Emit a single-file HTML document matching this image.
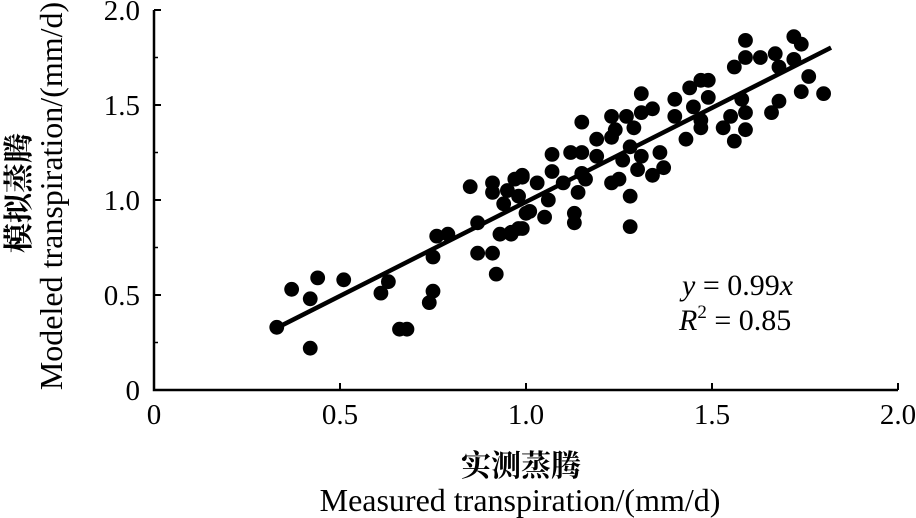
<!DOCTYPE html>
<html><head><meta charset="utf-8"><style>
body{margin:0;background:#fff;}
svg{display:block;font-family:"Liberation Serif","Noto Serif CJK SC",serif;}
</style></head><body>
<svg id="chart" width="916" height="518" viewBox="0 0 916 518" xmlns="http://www.w3.org/2000/svg">
<g id="axes"></g><g id="marks"></g>
<text transform="translate(29,193) rotate(-90)" text-anchor="middle" font-size="30" font-family="Noto Serif CJK SC,serif" font-weight="bold">模拟蒸腾</text>
<text transform="translate(62,196) rotate(-90)" text-anchor="middle" font-size="32">Modeled transpiration/(mm/d)</text>
<text x="521" y="476" text-anchor="middle" font-size="30" font-family="Noto Serif CJK SC,serif" font-weight="bold">实测蒸腾</text>
<text x="520" y="511" text-anchor="middle" font-size="32">Measured transpiration/(mm/d)</text>
<text x="682" y="295" font-size="30"><tspan font-style="italic">y</tspan> = 0.99<tspan font-style="italic">x</tspan></text>
<text x="679" y="330" font-size="30"><tspan font-style="italic">R</tspan><tspan font-size="19" dy="-12">2</tspan><tspan dy="12"> = 0.85</tspan></text>
</svg>
<script>
const xVals=[0.33,0.37,0.42,0.44,0.51,0.42,0.61,0.63,0.66,0.68,0.75,0.74,0.75,0.76,0.79,0.85,0.91,0.91,0.87,0.91,0.92,0.95,0.94,0.93,0.96,0.99,0.87,0.99,0.98,1.00,
1.59,1.59,1.56,1.63,1.67,1.72,1.74,1.68,1.72,1.76,1.74,1.80,1.68,1.66,1.58,1.59,1.55,1.53,1.56,1.59,1.49,1.47,1.44,1.49,1.45,1.47,1.47,1.40,1.40,1.43,
1.31,1.34,1.31,1.27,1.23,1.24,1.29,1.15,1.19,1.23,1.28,1.26,1.31,1.30,1.36,1.37,1.34,1.25,1.23,1.19,1.15,1.12,1.07,1.07,1.15,1.16,1.10,1.14,1.06,1.03,
0.99,0.97,1.01,1.05,0.98,0.96,1.13,1.13,1.28,1.28];
const yVals=[0.33,0.53,0.48,0.59,0.58,0.22,0.51,0.57,0.32,0.32,0.52,0.46,0.70,0.81,0.82,1.07,1.09,1.04,0.72,0.72,0.61,1.05,0.98,0.82,0.82,0.85,0.88,1.12,1.02,0.93,
1.84,1.75,1.70,1.75,1.77,1.86,1.82,1.70,1.74,1.65,1.57,1.56,1.52,1.46,1.53,1.46,1.44,1.38,1.31,1.37,1.63,1.63,1.59,1.54,1.49,1.42,1.38,1.53,1.44,1.32,
1.56,1.48,1.46,1.44,1.44,1.37,1.38,1.41,1.32,1.33,1.28,1.21,1.23,1.16,1.25,1.17,1.13,1.11,1.09,1.23,1.25,1.25,1.24,1.15,1.14,1.11,1.09,1.04,1.00,1.09,
1.13,1.11,0.94,0.91,0.85,0.83,0.93,0.88,1.02,0.86];
const xTicks=[0,0.5,1.0,1.5,2.0];
const xTickLabels=["0","0.5","1.0","1.5","2.0"];
const yTicks=[0,0.5,1.0,1.5,2.0];
const yTickLabels=["0","0.5","1.0","1.5","2.0"];
const slope=[0.99];
const fitRange=[0.32,1.82];
const NS="http://www.w3.org/2000/svg";
const X=v=>154+v*372, Y=v=>390-v*190;
function mk(tag,attrs,parent){const e=document.createElementNS(NS,tag);for(const k in attrs)e.setAttribute(k,attrs[k]);parent.appendChild(e);return e;}
const axes=document.getElementById('axes'), marks=document.getElementById('marks');
let ax=mk('path',{d:`M${X(0)},${Y(2)} V${Y(0)} H${X(2)}`,fill:'none',stroke:'#000','stroke-width':2.5},axes);


xTicks.forEach((t,i)=>{
 let l=mk('line',{x1:X(t),x2:X(t),y1:Y(0),y2:Y(0)-7,stroke:'#000','stroke-width':2},axes);
 
 
 let tx=mk('text',{x:X(t),y:424,'text-anchor':'middle','font-size':29},axes);
 tx.textContent=xTickLabels[i];
 
 
});
yTicks.forEach((t,i)=>{
 let l=mk('line',{x1:X(0),x2:X(0)+7,y1:Y(t),y2:Y(t),stroke:'#000','stroke-width':2},axes);
 
 
 let tx=mk('text',{x:140,y:Y(t)+10,'text-anchor':'end','font-size':29},axes);
 tx.textContent=yTickLabels[i];
 
 
});
[0.25,0.75,1.25,1.75].forEach(t=>{
 let l=mk('line',{x1:X(0),x2:X(0)+4,y1:Y(t),y2:Y(t),stroke:'#000','stroke-width':1.5},axes);
 
 
});
xVals.forEach((x,i)=>{
 let c=mk('circle',{cx:X(x),cy:Y(yVals[i]),r:7.4,fill:'#000'},marks);
 
 
});
let fl=mk('line',{x1:X(fitRange[0]),y1:Y(fitRange[0]*slope[0]),x2:X(fitRange[1]),y2:Y(fitRange[1]*slope[0]),stroke:'#000','stroke-width':4.5},marks);


</script>
</body></html>
